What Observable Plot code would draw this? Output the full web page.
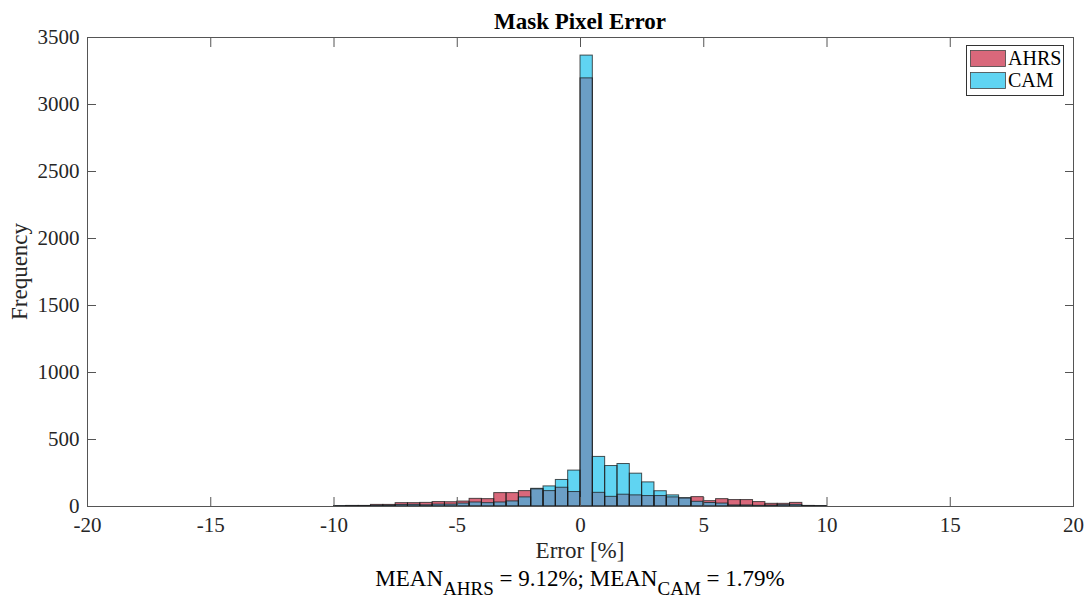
<!DOCTYPE html>
<html>
<head>
<meta charset="utf-8">
<script src="https://cdn.jsdelivr.net/npm/d3@7"></script>
<script src="https://cdn.jsdelivr.net/npm/@observablehq/plot@0.6"></script>
<style>
  html, body { margin: 0; padding: 0; background: #fff; }
  #chart { position: relative; width: 1088px; height: 599px; }
  svg { font-family: "Liberation Serif", "Times New Roman", serif; }
</style>
</head>
<body>
<div id="chart"></div>
<script>
// ---- data ----
const binEdges = [-10, -9.5, -9, -8.5, -8, -7.5, -7, -6.5, -6, -5.5, -5, -4.5, -4, -3.5, -3, -2.5, -2, -1.5, -1, -0.5,
                  0, 0.5, 1, 1.5, 2, 2.5, 3, 3.5, 4, 4.5, 5, 5.5, 6, 6.5, 7, 7.5, 8, 8.5, 9, 9.5, 10];
const ahrsCounts = [2, 4, 4, 12, 12, 25, 25, 27, 33, 32, 37, 57, 55, 100, 100, 115, 128, 115, 140, 108,
                    3195, 102, 72, 88, 83, 78, 78, 68, 60, 70, 40, 55, 48, 48, 33, 20, 20, 27, 4, 3];
const camCounts  = [3, 4, 4, 5, 6, 11, 12, 9, 14, 14, 22, 30, 25, 30, 38, 68, 132, 150, 198, 268,
                    3365, 370, 302, 317, 245, 180, 114, 83, 62, 35, 26, 22, 8, 8, 5, 7, 10, 12, 4, 3];
const seriesNames = ["AHRS", "CAM"];
const xTicks = [-20, -15, -10, -5, 0, 5, 10, 15, 20];
const yTicks = [0, 500, 1000, 1500, 2000, 2500, 3000, 3500];
const titleText = "Mask Pixel Error";
const xLabel = "Error [%]";
const yLabel = "Frequency";
const meanAHRS = "9.12%";
const meanCAM = "1.79%";

// ---- colours ----
const colAHRS = "#d9687b";
const colCAM = "#60d4f2";
const colOverlap = "#6b9ec5";
const edge = "#1a1a1a";

const bins = ahrsCounts.map((a, i) => ({
  x1: binEdges[i], x2: binEdges[i + 1],
  ahrs: a, cam: camCounts[i], overlap: Math.min(a, camCounts[i])
}));

const W = 1088, H = 599;
const mL = 87, mR = 15, mT = 37, mB = 93;
const tick = 9;
const fmt = d => String(d);
const blank = () => "";

const plot = Plot.plot({
  width: W, height: H,
  marginLeft: mL, marginRight: mR, marginTop: mT, marginBottom: mB,
  style: { fontFamily: "Liberation Serif, Times New Roman, serif", fontSize: "21px", color: "#262626", background: "#fff" },
  x: { domain: [-20, 20], ticks: xTicks },
  y: { domain: [0, 3500], ticks: yTicks },
  marks: [
    Plot.rectY(bins, { x1: "x1", x2: "x2", y: "ahrs", fill: colAHRS }),
    Plot.rectY(bins, { x1: "x1", x2: "x2", y: "cam", fill: colCAM }),
    Plot.rectY(bins, { x1: "x1", x2: "x2", y: "overlap", fill: colOverlap }),
    Plot.rectY(bins, { x1: "x1", x2: "x2", y: "ahrs", fill: "none", stroke: edge, strokeOpacity: 0.75, strokeWidth: 1 }),
    Plot.rectY(bins, { x1: "x1", x2: "x2", y: "cam", fill: "none", stroke: edge, strokeOpacity: 0.75, strokeWidth: 1 }),
    Plot.frame({ stroke: "#555", strokeWidth: 1 }),
    Plot.axisX(xTicks, { anchor: "bottom", tickSize: -tick, tickPadding: tick + 11, tickFormat: fmt, label: null, stroke: "#555", fill: "#262626" }),
    Plot.axisX(xTicks, { anchor: "top", tickSize: -tick, tickFormat: blank, label: null, stroke: "#555" }),
    Plot.axisY(yTicks, { anchor: "left", tickSize: -tick, tickPadding: tick + 8, tickFormat: fmt, label: null, stroke: "#555", fill: "#262626" }),
    Plot.axisY(yTicks, { anchor: "right", tickSize: -tick, tickFormat: blank, label: null, stroke: "#555" })
  ]
});
document.getElementById("chart").appendChild(plot);

const svg = d3.select(plot);
const ff = "Liberation Serif, Times New Roman, serif";
const cx = mL + (W - mL - mR) / 2;

// title
svg.append("text").attr("x", cx).attr("y", 29).attr("text-anchor", "middle")
  .attr("font-family", ff).attr("font-size", 23).attr("font-weight", "bold").attr("fill", "#000")
  .text(titleText);

// x label
svg.append("text").attr("x", cx).attr("y", 558).attr("text-anchor", "middle")
  .attr("font-family", ff).attr("font-size", 23).attr("fill", "#262626")
  .text(xLabel);

// y label
svg.append("text").attr("transform", `translate(27,${mT + (H - mT - mB) / 2}) rotate(-90)`)
  .attr("text-anchor", "middle")
  .attr("font-family", ff).attr("font-size", 23).attr("fill", "#262626")
  .text(yLabel);

// caption with subscripts
const cap = svg.append("text").attr("x", cx).attr("y", 586).attr("text-anchor", "middle")
  .attr("font-family", ff).attr("font-size", 23).attr("fill", "#000");
cap.append("tspan").text("MEAN");
cap.append("tspan").attr("font-size", 19).attr("dy", 9).text(seriesNames[0]);
cap.append("tspan").attr("dy", -9).text(" = " + meanAHRS + "; MEAN");
cap.append("tspan").attr("font-size", 19).attr("dy", 9).text(seriesNames[1]);
cap.append("tspan").attr("dy", -9).text(" = " + meanCAM);

// legend
const lg = svg.append("g");
lg.append("rect").attr("x", 966.5).attr("y", 45.5).attr("width", 97).attr("height", 50)
  .attr("fill", "#fff").attr("stroke", "#333").attr("stroke-width", 1);
const lgCols = [colAHRS, colCAM];
seriesNames.forEach((name, i) => {
  lg.append("rect").attr("x", 970.5).attr("y", 50.5 + i * 22).attr("width", 35).attr("height", 16)
    .attr("fill", lgCols[i]).attr("stroke", "#444").attr("stroke-width", 0.8);
  lg.append("text").attr("x", 1008).attr("y", 65 + i * 22).attr("text-anchor", "start")
    .attr("font-family", ff).attr("font-size", 20).attr("fill", "#000").text(name);
});
</script>
</body>
</html>
